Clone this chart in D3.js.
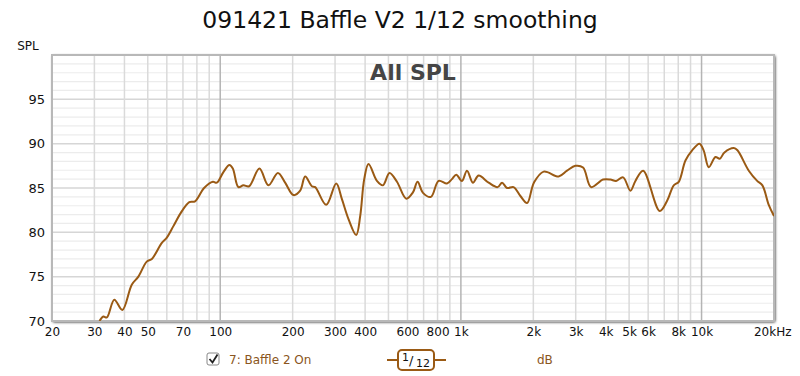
<!DOCTYPE html>
<html>
<head>
<meta charset="utf-8">
<script src="https://cdn.jsdelivr.net/npm/d3@7"></script>
<style>
  body { margin: 0; background: #fff; }
  svg text { font-family: "DejaVu Sans", Verdana, sans-serif; }
</style>
</head>
<body>
<div id="chart"></div>
<script>
// Taajuusvaste, luettu kuvasta (Hz, dB)
var freqs = [31.5, 32.7, 33.8, 36.3, 39.2, 42.9, 45.7, 49.5, 52.0, 57.2, 60.0, 63.9, 68.6, 74.4, 78.6,
  85.7, 93.2, 96.8, 103.1, 109.2, 112.8, 119, 124.8, 131.9, 145.5, 158.6, 173.6, 186.1, 201.5, 214.9,
  225.4, 240.4, 248.2, 275.7, 303.4, 320.4, 341.2, 367.3, 381.7, 396.6, 413.3, 447.8, 474.2, 505.2,
  542.5, 593, 632, 660.7, 696, 751, 808, 875.6, 918, 957, 1010, 1060, 1122, 1185, 1304, 1421, 1483,
  1555, 1656, 1767, 1884, 2011, 2208, 2549, 2761, 2990, 3219, 3475, 3897, 4180, 4415, 4721, 5064,
  5311, 5717, 6703, 7193, 7664, 8040, 8572, 9141, 9800, 10200, 10715, 11425, 11900, 12450, 13615,
  14100, 15715, 17025, 17900, 19020, 20000];
var spl = [70.0, 70.5, 70.4, 72.4, 71.25, 74.1, 75.0, 76.7, 77.0, 78.8, 79.4, 80.7, 82.2, 83.4, 83.5,
  85.0, 85.7, 85.6, 86.8, 87.6, 87.2, 85.1, 85.3, 85.2, 87.2, 85.3, 86.7, 85.6, 84.2, 84.7,
  86.3, 85.2, 85.1, 83.1, 85.5, 83.75, 81.5, 79.7, 81.85, 86.0, 87.7, 85.8, 85.3, 86.7,
  85.7, 83.8, 84.5, 85.7, 84.45, 84.0, 85.8, 85.5, 86.0, 86.5, 85.8, 86.95, 85.6, 86.4, 85.6, 85.1, 85.6,
  85.0, 85.1, 84.1, 83.3, 85.6, 86.85, 86.3, 86.95, 87.5, 87.3, 85.1, 85.95, 85.95, 85.8, 86.2, 84.7,
  85.8, 86.95, 82.4, 83.55, 85.3, 85.7, 88.1, 89.25, 90.0, 89.25, 87.35, 88.5, 88.3, 89.0, 89.5,
  89.25, 86.95, 85.8, 85.3, 83.1, 81.85];

var xTickValues = [20, 30, 40, 50, 70, 100, 200, 300, 400, 600, 800, 1000, 2000, 3000, 4000, 5000,
  6000, 8000, 10000, 20000];
var xTickLabels = ["20", "30", "40", "50", "70", "100", "200", "300", "400", "600", "800", "1k",
  "2k", "3k", "4k", "5k", "6k", "8k", "10k", "20kHz"];
var yTickValues = [70, 75, 80, 85, 90, 95];

var width = 800, height = 376;
var margin = { top: 55, right: 26, bottom: 55, left: 52 };
var innerW = width - margin.left - margin.right;
var innerH = height - margin.top - margin.bottom;
var lineColor = "#9a5a14";

var svg = d3.select("#chart").append("svg")
  .attr("width", width)
  .attr("height", height);

var defs = svg.append("defs");
var shadow = defs.append("filter").attr("id", "frameShadow")
  .attr("x", "-5%").attr("y", "-5%").attr("width", "110%").attr("height", "110%");
shadow.append("feGaussianBlur").attr("in", "SourceAlpha").attr("stdDeviation", 1.5);
shadow.append("feOffset").attr("dx", 1).attr("dy", 1).attr("result", "b");
var merge = shadow.append("feMerge");
merge.append("feMergeNode").attr("in", "b");
merge.append("feMergeNode").attr("in", "SourceGraphic");

defs.append("clipPath").attr("id", "plotClip")
  .append("rect").attr("width", innerW).attr("height", innerH);

var x = d3.scaleLog().domain([20, 20000]).range([0, innerW]);
var y = d3.scaleLinear().domain([70, 100]).range([innerH, 0]);

var g = svg.append("g").attr("transform", "translate(" + margin.left + "," + margin.top + ")");

// kehys + tausta
g.append("rect")
  .attr("width", innerW).attr("height", innerH)
  .attr("fill", "#fff")
  .attr("filter", "url(#frameShadow)");

// vaakaviivat (1 dB välein)
var yMinor = d3.range(71, 100, 1);
g.append("g").selectAll("line").data(yMinor).join("line")
  .attr("x1", 0).attr("x2", innerW)
  .attr("y1", function(d) { return y(d); }).attr("y2", function(d) { return y(d); })
  .attr("stroke", function(d) { return d % 5 === 0 ? "#d6d6d6" : "#ececec"; })
  .attr("stroke-width", function(d) { return d % 5 === 0 ? 1.5 : 1.2; });

// pystyviivat
var xGrid = [];
[10, 100, 1000, 10000].forEach(function(dec) {
  for (var k = 1; k < 10; k++) {
    var v = dec * k;
    if (v > 20 && v < 20000) xGrid.push(v);
  }
});
g.append("g").selectAll("line").data(xGrid).join("line")
  .attr("x1", function(d) { return x(d); }).attr("x2", function(d) { return x(d); })
  .attr("y1", 0).attr("y2", innerH)
  .attr("stroke", function(d) { return [100, 1000, 10000].indexOf(d) >= 0 ? "#b4b4b4" : "#dadada"; })
  .attr("stroke-width", 1.5);

// kehysviiva
g.append("rect")
  .attr("width", innerW).attr("height", innerH)
  .attr("fill", "none")
  .attr("stroke", "#b8b8b8")
  .attr("stroke-width", 2);

// otsikko kuvaajan sisällä
g.append("text")
  .attr("x", innerW / 2).attr("y", 25)
  .attr("text-anchor", "middle")
  .attr("font-size", 22).attr("font-weight", "bold")
  .attr("fill", "#454545")
  .text("All SPL");

// käyrä
var line = d3.line()
  .x(function(d, i) { return x(freqs[i]); })
  .y(function(d) { return y(d); })
  .curve(d3.curveCatmullRom.alpha(0.5));

g.append("path")
  .datum(spl)
  .attr("clip-path", "url(#plotClip)")
  .attr("fill", "none")
  .attr("stroke", lineColor)
  .attr("stroke-width", 2)
  .attr("d", line);

// akselit
var xAxis = d3.axisBottom(x)
  .tickValues(xTickValues)
  .tickFormat(function(d, i) { return xTickLabels[i]; })
  .tickSize(0).tickPadding(6);
var xg = g.append("g").attr("transform", "translate(0," + innerH + ")").call(xAxis);
xg.select(".domain").remove();
xg.selectAll("text").attr("font-size", 12).attr("fill", "#111")
  .attr("font-family", "DejaVu Sans, sans-serif");
xg.selectAll(".tick").filter(function(d) { return d === 20000; })
  .select("text").attr("text-anchor", "end").attr("dx", 17);

var yAxis = d3.axisLeft(y).tickValues(yTickValues).tickSize(0).tickPadding(7);
var yg = g.append("g").call(yAxis);
yg.select(".domain").remove();
yg.selectAll("text").attr("font-size", 13).attr("fill", "#111")
  .attr("font-family", "DejaVu Sans, sans-serif");

svg.append("text")
  .attr("x", 28).attr("y", 50)
  .attr("text-anchor", "middle")
  .attr("font-size", 12).attr("fill", "#111")
  .text("SPL");

// pääotsikko
svg.append("text")
  .attr("x", width / 2).attr("y", 28)
  .attr("text-anchor", "middle")
  .attr("font-size", 23.5).attr("fill", "#111")
  .text("091421 Baffle V2 1/12 smoothing");

// selite
var legend = svg.append("g");
legend.append("rect")
  .attr("x", 207).attr("y", 353).attr("width", 12).attr("height", 12)
  .attr("rx", 2).attr("fill", "#fff").attr("stroke", "#888");
legend.append("path")
  .attr("d", "M209.5,359 L212.5,362.5 L217.5,354.5")
  .attr("fill", "none").attr("stroke", "#222").attr("stroke-width", 1.8);
legend.append("text")
  .attr("x", 229).attr("y", 364)
  .attr("font-size", 12).attr("fill", "#8a5520")
  .text("7: Baffle 2 On");

legend.append("line")
  .attr("x1", 387).attr("x2", 446).attr("y1", 360).attr("y2", 360)
  .attr("stroke", lineColor).attr("stroke-width", 2);
legend.append("rect")
  .attr("x", 398).attr("y", 350).attr("width", 36).attr("height", 20)
  .attr("rx", 4).attr("fill", "#fff").attr("stroke", lineColor).attr("stroke-width", 2);
legend.append("text")
  .attr("x", 402).attr("y", 361)
  .attr("font-size", 11).attr("fill", "#111")
  .text("1");
legend.append("text")
  .attr("x", 409).attr("y", 365)
  .attr("font-size", 13).attr("fill", "#111")
  .text("/");
legend.append("text")
  .attr("x", 416).attr("y", 367)
  .attr("font-size", 11).attr("fill", "#111")
  .text("12");

legend.append("text")
  .attr("x", 537).attr("y", 364)
  .attr("font-size", 12).attr("fill", "#8a5520")
  .text("dB");
</script>
</body>
</html>
